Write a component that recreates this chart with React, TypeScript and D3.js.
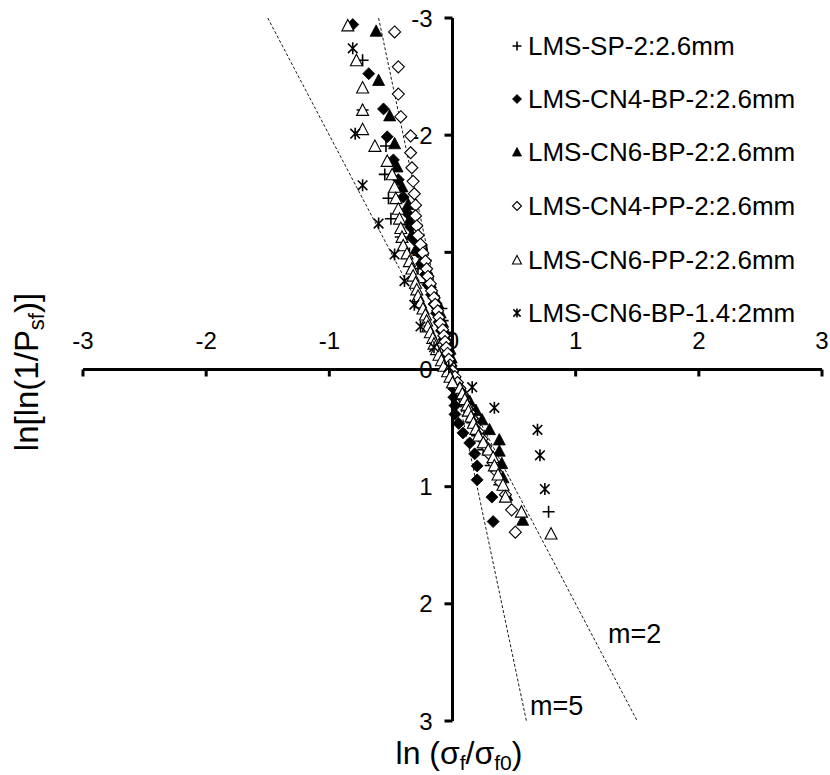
import React from "react";
import * as d3 from "d3";

// ---------- data ----------
const xTicks = [-3, -2, -1, 0, 1, 2, 3];
const yTicks = [-3, -2, -1, 0, 1, 2, 3];
const slopes = [2, 5];
const slopeLabels = ["m=2", "m=5"];

const seriesNames = [
  "LMS-SP-2:2.6mm",
  "LMS-CN4-BP-2:2.6mm",
  "LMS-CN6-BP-2:2.6mm",
  "LMS-CN4-PP-2:2.6mm",
  "LMS-CN6-PP-2:2.6mm",
  "LMS-CN6-BP-1.4:2mm",
];
const seriesMarkers = ["plus", "diamondFill", "triangleFill", "diamondOpen", "triangleOpen", "star"];

const spX = [-0.73, -0.73, -0.54, -0.55, -0.52, -0.5, -0.42, -0.35, -0.28, -0.22, -0.15, -0.09, -0.08, -0.06, -0.04, -0.03, -0.01, 0.02, 0.05, 0.08, 0.12, 0.16, 0.2, 0.25, 0.31, 0.38, 0.78];
const spY = [-2.639, -2.215, -1.908, -1.665, -1.462, -1.287, -1.131, -0.99, -0.861, -0.74, -0.627, -0.52, -0.417, -0.317, -0.22, -0.125, -0.031, 0.063, 0.157, 0.253, 0.352, 0.455, 0.564, 0.684, 0.819, 0.984, 1.214];

const cn4bpX = [-0.81, -0.68, -0.56, -0.53, -0.48, -0.44, -0.4, -0.37, -0.34, -0.31, -0.28, -0.25, -0.22, -0.2, -0.17, -0.15, -0.13, -0.11, -0.09, -0.07, -0.05, -0.035, -0.02, 0.0, 0.0, 0.01, 0.01, 0.02, 0.02, 0.05, 0.085, 0.14, 0.18, 0.2, 0.2, 0.32, 0.33];
const cn4bpY = [-2.944, -2.525, -2.224, -1.986, -1.789, -1.62, -1.472, -1.338, -1.216, -1.105, -1.0, -0.903, -0.81, -0.723, -0.638, -0.558, -0.48, -0.404, -0.33, -0.257, -0.186, -0.115, -0.046, 0.024, 0.094, 0.164, 0.236, 0.308, 0.383, 0.46, 0.541, 0.627, 0.72, 0.823, 0.942, 1.089, 1.298];

const cn6bpX = [-0.62, -0.6, -0.51, -0.47, -0.45, -0.41, -0.36, -0.35, -0.33, -0.29, -0.25, -0.2, -0.18, -0.15, -0.12, -0.1, -0.08, -0.06, -0.04, -0.02, -0.01, 0.0, 0.02, 0.05, 0.09, 0.14, 0.19, 0.24, 0.3, 0.38, 0.38, 0.4, 0.41, 0.44, 0.57];
const cn6bpY = [-2.89, -2.47, -2.168, -1.93, -1.732, -1.562, -1.412, -1.278, -1.155, -1.042, -0.936, -0.837, -0.744, -0.654, -0.569, -0.486, -0.406, -0.328, -0.251, -0.176, -0.102, -0.029, 0.045, 0.119, 0.193, 0.269, 0.346, 0.426, 0.51, 0.598, 0.694, 0.8, 0.921, 1.071, 1.284];

const cn4ppX = [-0.47, -0.44, -0.44, -0.42, -0.34, -0.34, -0.33, -0.32, -0.31, -0.3, -0.3, -0.29, -0.28, -0.26, -0.24, -0.22, -0.21, -0.2, -0.18, -0.17, -0.15, -0.14, -0.12, -0.11, -0.1, -0.08, -0.07, -0.06, -0.05, -0.04, -0.03, -0.02, 0.0, 0.02, 0.04, 0.06, 0.08, 0.1, 0.12, 0.14, 0.16, 0.18, 0.21, 0.24, 0.27, 0.3, 0.33, 0.36, 0.39, 0.43, 0.48, 0.51];
const cn4ppY = [-2.881, -2.583, -2.351, -2.158, -1.994, -1.85, -1.722, -1.606, -1.5, -1.402, -1.311, -1.225, -1.144, -1.068, -0.995, -0.925, -0.859, -0.794, -0.732, -0.672, -0.613, -0.556, -0.501, -0.446, -0.393, -0.34, -0.289, -0.238, -0.187, -0.137, -0.087, -0.038, 0.012, 0.061, 0.111, 0.161, 0.211, 0.262, 0.314, 0.366, 0.42, 0.476, 0.533, 0.593, 0.656, 0.723, 0.796, 0.875, 0.964, 1.068, 1.198, 1.388];

const cn6ppX = [-0.85, -0.78, -0.73, -0.73, -0.73, -0.63, -0.53, -0.49, -0.47, -0.46, -0.44, -0.43, -0.42, -0.41, -0.4, -0.37, -0.35, -0.33, -0.32, -0.3, -0.29, -0.28, -0.26, -0.24, -0.22, -0.21, -0.2, -0.18, -0.16, -0.15, -0.13, -0.11, -0.09, -0.07, -0.04, -0.02, 0.0, 0.06, 0.08, 0.1, 0.12, 0.13, 0.15, 0.17, 0.19, 0.21, 0.25, 0.29, 0.33, 0.34, 0.37, 0.41, 0.43, 0.56, 0.8];
const cn6ppY = [-2.936, -2.639, -2.406, -2.215, -2.051, -1.908, -1.78, -1.665, -1.559, -1.462, -1.371, -1.287, -1.207, -1.131, -1.059, -0.99, -0.924, -0.861, -0.8, -0.74, -0.683, -0.627, -0.573, -0.52, -0.468, -0.417, -0.367, -0.317, -0.268, -0.22, -0.173, -0.125, -0.078, -0.031, 0.016, 0.063, 0.11, 0.157, 0.205, 0.253, 0.302, 0.352, 0.402, 0.455, 0.508, 0.564, 0.622, 0.684, 0.749, 0.819, 0.897, 0.984, 1.086, 1.214, 1.401];

const cn6bp14X = [-0.81, -0.79, -0.73, -0.6, -0.47, -0.39, -0.31, -0.26, -0.15, -0.03, 0.16, 0.34, 0.69, 0.71, 0.75];
const cn6bp14Y = [-2.741, -2.013, -1.572, -1.246, -0.982, -0.755, -0.553, -0.367, -0.19, -0.019, 0.151, 0.327, 0.515, 0.732, 1.02];

const seriesX = [spX, cn4bpX, cn6bpX, cn4ppX, cn6ppX, cn6bp14X];
const seriesY = [spY, cn4bpY, cn6bpY, cn4ppY, cn6ppY, cn6bp14Y];

// ---------- helpers ----------
const FONT = "'Liberation Sans', Arial, sans-serif";

function markerPath(kind: string, s: number): string {
  switch (kind) {
    case "plus":
      return `M${-s},0H${s}M0,${-s}V${s}`;
    case "diamondFill":
    case "diamondOpen":
      return `M0,${-s}L${s},0L0,${s}L${-s},0Z`;
    case "triangleFill":
    case "triangleOpen":
      return `M0,${-s}L${s},${s * 0.9}L${-s},${s * 0.9}Z`;
    case "star":
      return `M${-s * 0.8},${-s * 0.8}L${s * 0.8},${s * 0.8}M${-s * 0.8},${s * 0.8}L${s * 0.8},${-s * 0.8}M0,${-s}V${s}`;
    default:
      return "";
  }
}

function markerStyle(kind: string) {
  if (kind === "diamondFill" || kind === "triangleFill")
    return { fill: "#000", stroke: "#000", strokeWidth: 0.8 };
  if (kind === "diamondOpen" || kind === "triangleOpen")
    return { fill: "#fff", stroke: "#000", strokeWidth: 1.1 };
  return { fill: "none", stroke: "#000", strokeWidth: 1.6 };
}

export default function App() {
  const W = 830;
  const H = 775;
  const x = d3.scaleLinear().domain([-3, 3]).range([83, 822]);
  const y = d3.scaleLinear().domain([-3, 3]).range([18, 721]);
  const x0 = x(0);
  const y0 = y(0);

  const [yMin, yMax] = y.domain();
  const refLine = d3
    .line<[number, number]>()
    .x((d) => x(d[0]))
    .y((d) => y(d[1]));

  const legendY = [46, 99, 152, 206, 260, 313];

  return (
    <svg
      width={W}
      height={H}
      style={{ position: "absolute", left: 0, top: 0, background: "#fff" }}
      fontFamily={FONT}
    >
      <rect x={0} y={0} width={W} height={H} fill="#fff" />

      {/* reference Weibull modulus lines */}
      {slopes.map((m) => (
        <path
          key={"m" + m}
          d={refLine([
            [yMin / m, yMin],
            [yMax / m, yMax],
          ]) as string}
          fill="none"
          stroke="#000"
          strokeWidth={0.9}
          strokeDasharray="3,2"
        />
      ))}
      <text x={608} y={643} fontSize={27}>
        {slopeLabels[0]}
      </text>
      <text x={530} y={715} fontSize={27}>
        {slopeLabels[1]}
      </text>

      {/* axes */}
      <line x1={x(-3)} x2={x(3)} y1={y0} y2={y0} stroke="#000" strokeWidth={3} />
      <line x1={x0} x2={x0} y1={y(-3)} y2={y(3)} stroke="#000" strokeWidth={3} />
      {xTicks.map((t) => (
        <g key={"xt" + t}>
          <line x1={x(t)} x2={x(t)} y1={y0} y2={y0 + 7} stroke="#000" strokeWidth={3} />
          <text x={x(t)} y={y0 - 21} fontSize={24} textAnchor="middle">
            {t}
          </text>
        </g>
      ))}
      {yTicks.map((t) => (
        <g key={"yt" + t}>
          <line x1={x0 - 8} x2={x0} y1={y(t)} y2={y(t)} stroke="#000" strokeWidth={3} />
          <text x={x0 - 20} y={y(t) + 8.5} fontSize={24} textAnchor="end">
            {t}
          </text>
        </g>
      ))}

      {/* data */}
      {seriesX.map((xs, si) => (
        <g key={"s" + si}>
          {xs.map((xv, i) => (
            <path
              key={i}
              transform={`translate(${x(xv)},${y(seriesY[si][i])})`}
              d={markerPath(seriesMarkers[si], 6)}
              {...markerStyle(seriesMarkers[si])}
            />
          ))}
        </g>
      ))}

      {/* legend */}
      {seriesNames.map((name, i) => (
        <g key={"lg" + i}>
          <path
            transform={`translate(517,${legendY[i]})`}
            d={markerPath(seriesMarkers[i], 4.5)}
            {...markerStyle(seriesMarkers[i])}
          />
          <text x={528} y={legendY[i] + 9} fontSize={26}>
            {name}
          </text>
        </g>
      ))}

      {/* axis titles */}
      <text x={459} y={764} fontSize={32} textAnchor="middle">
        ln (σ
        <tspan fontSize={21} dy={6}>f</tspan>
        <tspan dy={-6}>/σ</tspan>
        <tspan fontSize={21} dy={6}>f0</tspan>
        <tspan dy={-6}>)</tspan>
      </text>
      <text transform="translate(38,372) rotate(-90)" fontSize={33} textAnchor="middle">
        ln[ln(1/P
        <tspan fontSize={22} dy={6}>sf</tspan>
        <tspan dy={-6}>)]</tspan>
      </text>
    </svg>
  );
}
